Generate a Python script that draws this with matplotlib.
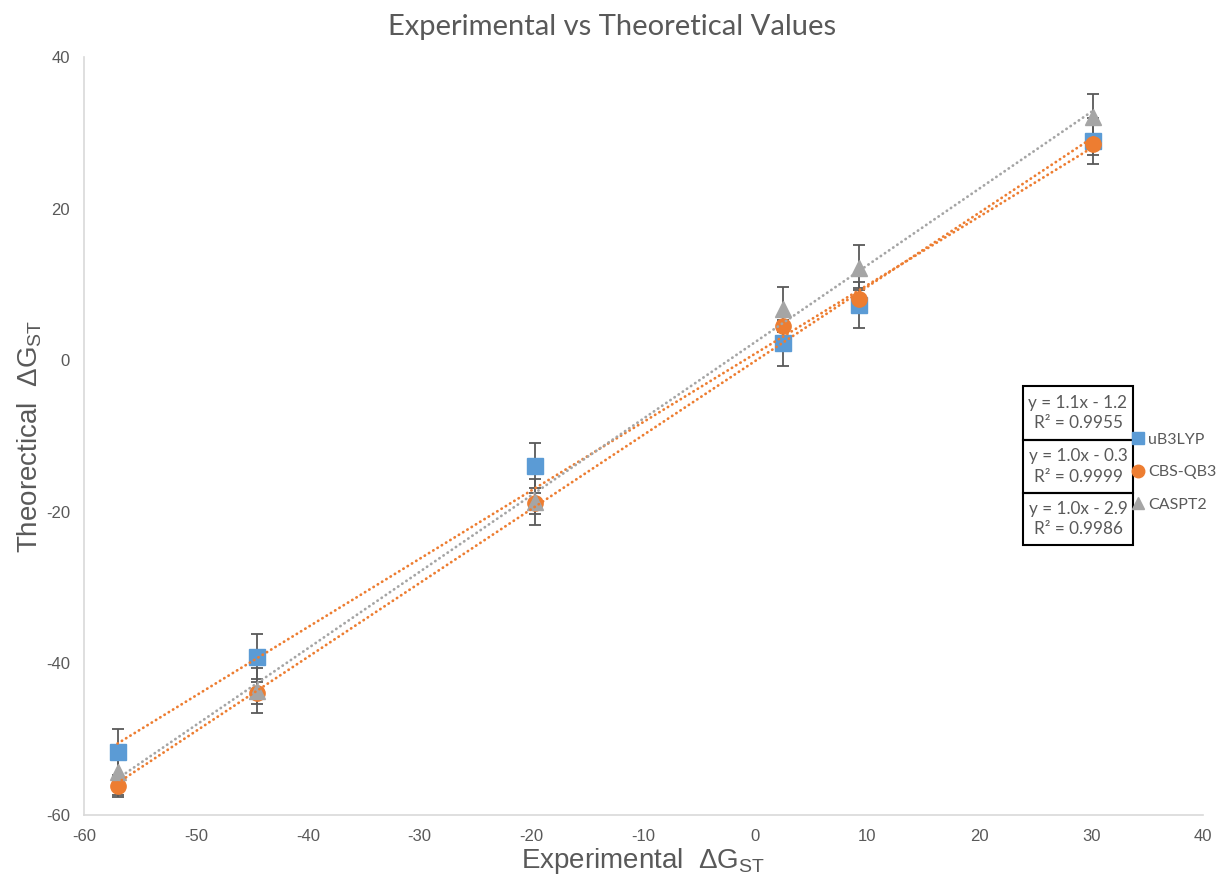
import numpy as np
import matplotlib.pyplot as plt
from matplotlib.lines import Line2D
from matplotlib.patches import Rectangle

plt.rcParams['font.family'] = ['Liberation Sans', 'DejaVu Sans']
plt.rcParams['axes.unicode_minus'] = False

# Datos
exp_x = [-57.0, -44.5, -19.7, 2.5, 9.3, 30.2]
ub3lyp = [-51.7, -39.1, -13.9, 2.3, 7.3, 28.9]
cbsqb3 = [-56.2, -43.9, -18.9, 4.5, 8.1, 28.5]
caspt2 = [-54.3, -43.6, -18.7, 6.7, 12.2, 32.1]
err_ub3lyp = 3.0
err_cbsqb3 = 1.4
err_caspt2 = 3.0

series_names = ["uB3LYP", "CBS-QB3", "CASPT2"]
equations = ["y = 1.1x - 1.2\nR² = 0.9955",
             "y = 1.0x - 0.3\nR² = 0.9999",
             "y = 1.0x - 2.9\nR² = 0.9986"]

blue = "#5B9BD5"
orange = "#ED7D31"
gray = "#A5A5A5"
txt = "#595959"

fig = plt.figure(figsize=(12.25, 8.9), dpi=100)
ax = fig.add_axes([84/1225, 75/890, (1203-84)/1225, (815-57)/890])

series = [
    (ub3lyp, err_ub3lyp, blue, "s", orange),
    (cbsqb3, err_cbsqb3, orange, "o", orange),
    (caspt2, err_caspt2, gray, "^", gray),
]

x = np.array(exp_x)
xs = np.array([x.min(), x.max()])
for y, e, col, mk, tcol in series:
    k, b = np.polyfit(x, y, 1)
    ax.plot(xs, k*xs + b, color=tcol, lw=2.0, ls=(0, (0.1, 1.7)),
            dash_capstyle="round", zorder=5)

for y, e, col, mk, tcol in series:
    ax.errorbar(x, y, yerr=e, fmt="none", ecolor="#595959", elinewidth=1.3,
                capsize=4.5, capthick=1.3, zorder=2)
    ax.plot(x, y, ls="none", marker=mk, ms=11, color=col, mec=col, zorder=3)

ax.set_xlim(-60, 40)
ax.set_ylim(-60, 40)
ax.set_xticks(np.arange(-60, 41, 10))
ax.set_yticks(np.arange(-60, 41, 20))
for s in ["top", "right"]:
    ax.spines[s].set_visible(False)
for s in ["left", "bottom"]:
    ax.spines[s].set_color("#D9D9D9")
    ax.spines[s].set_linewidth(1.2)
ax.tick_params(length=0, labelsize=12, colors=txt, pad=10)

ax.set_xlabel("Experimental  ΔG$_{\\mathregular{ST}}$", fontsize=20, color=txt)
ax.set_ylabel("Theorectical  ΔG$_{\\mathregular{ST}}$", fontsize=20, color=txt)
ax.xaxis.set_label_coords(0.5, -0.041)
ax.yaxis.set_label_coords(-0.036, 0.5)
fig.text(0.5, 0.97, "Experimental vs Theoretical Values", ha="center", va="center",
         fontsize=21, color=txt, family=["Lato", "DejaVu Sans"])

# Cajas con las ecuaciones
bx0, bx1 = 1023/1225, 1133/1225
tops = [386, 440, 493, 545]
for i, eq in enumerate(equations):
    y0 = 1 - tops[i+1]/890
    h = (tops[i+1] - tops[i])/890
    fig.patches.append(Rectangle((bx0, y0), bx1 - bx0, h, transform=fig.transFigure,
                                 fill=False, ec="black", lw=1.5))
    fig.text((bx0 + bx1)/2, y0 + h/2, eq, ha="center", va="center", fontsize=12.3,
             color=txt, linespacing=1.35, family=["Lato", "DejaVu Sans"])

handles = [Line2D([], [], ls="none", marker=m, ms=9, color=c) for _, _, c, m, _ in series]
fig.legend(handles, series_names, loc="center left", bbox_to_anchor=(1133/1225, 1 - 472/890),
           frameon=False, labelcolor=txt, handlelength=0.6,
           handletextpad=0.35, labelspacing=1.15, borderpad=0, borderaxespad=0,
           prop={"family": ["Lato", "DejaVu Sans"], "size": 11.5})

fig.savefig("out.png", dpi=100)
